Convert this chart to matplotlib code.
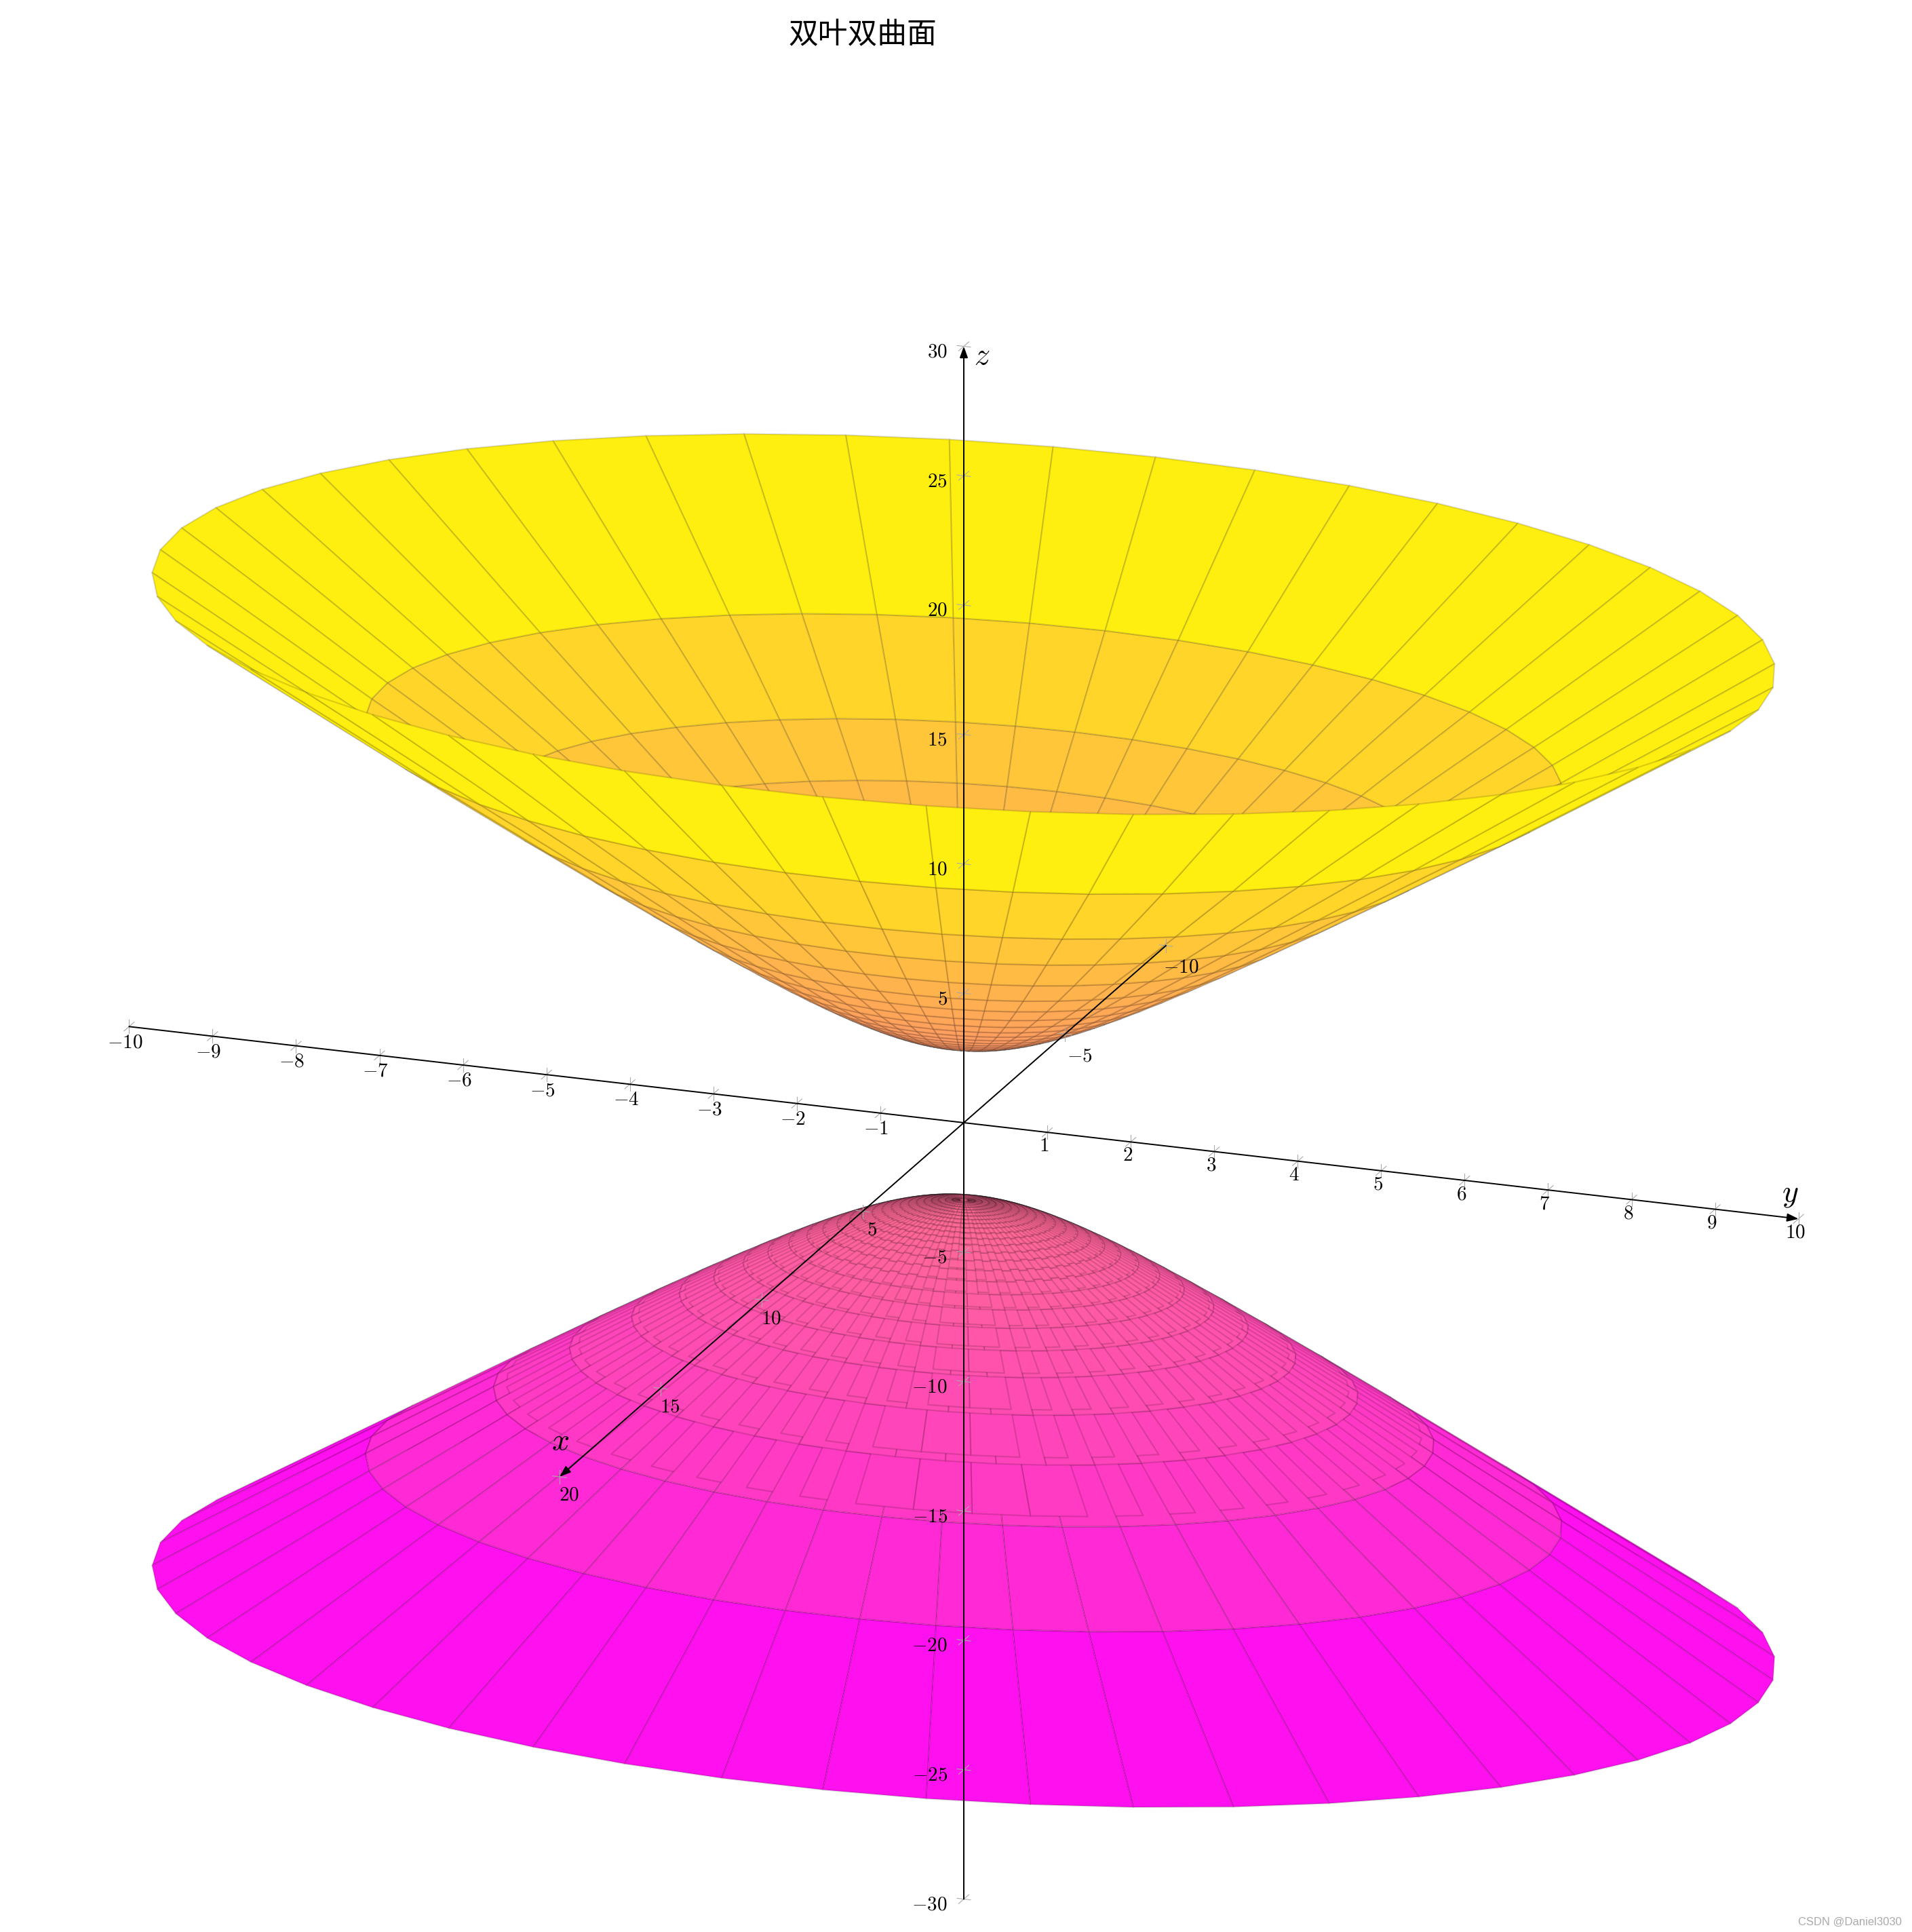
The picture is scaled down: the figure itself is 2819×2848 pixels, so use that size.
import matplotlib
matplotlib.use('Agg')
import matplotlib.pyplot as plt
from matplotlib.collections import PolyCollection
import numpy as np

plt.rcParams['mathtext.fontset'] = 'cm'

WIDTH = 2819
HEIGHT = 2848

title = '双叶双曲面'
watermark = 'CSDN @Daniel3030'

x_ticks = [-10, -5, 5, 10, 15, 20]
y_ticks = [-10, -9, -8, -7, -6, -5, -4, -3, -2, -1, 1, 2, 3, 4, 5, 6, 7, 8, 9, 10]
z_ticks = [-30, -25, -20, -15, -10, -5, 5, 10, 15, 20, 25, 30]

# rings of the surface, rim to vertex
ring_u = [1.4134, 1.3587, 1.3034, 1.2550, 1.2008, 1.1455, 1.095, 1.042, 0.989, 0.936, 0.883,
          0.830, 0.777, 0.724, 0.671, 0.618, 0.565, 0.512, 0.459, 0.406, 0.353,
          0.300, 0.247, 0.194, 0.141, 0.088, 0.035, 0.0]
rim_z_top = 19.26
rim_z_bottom = 19.10
a = 1.5
c = 3.0
n_cols = 49
v_start = np.radians(-77.2)

# screen directions of the three axes, pixels per unit
origin = np.array([1421.0, 1655.0])
ex = np.array([-29.8, 26.1])
ey = np.array([123.07, 14.17])
ez = np.array([0.0, -38.15])
view = np.array([123.07 / 29.8, 1.0, (26.1 * 123.07 / 29.8 + 14.17) / 38.15])


def proj(x, y, z):
    return origin + np.multiply.outer(x, ex) + np.multiply.outer(y, ey) + np.multiply.outer(z, ez)


def make_cell(u0, u1, v0, v1, rim_z, sign, edge=(0, 0, 0, 0.14)):
    us = np.array([u0, u0, u1, u1])
    vs = np.array([v0, v1, v1, v0])
    x = a * np.tan(us) * np.cos(vs)
    y = a * np.tan(us) * np.sin(vs)
    z = c / np.cos(us)
    if rim_z is not None:
        z[:2] = rim_z
    z = sign * z
    depth = view[0] * x.mean() + view[1] * y.mean() + view[2] * z.mean()
    return depth, proj(x, y, z), z.mean(), edge


def surface_cells(rim_z, sign, shift):
    dv = 2 * np.pi / n_cols
    last = len(ring_u) - 2
    cells = []
    for i in range(len(ring_u) - 1):
        for k in range(n_cols):
            v0 = v_start + k * dv
            # no lines on the tiny cells round the vertex
            edge = (0, 0, 0, 0) if i == last else (0, 0, 0, 0.14)
            cells.append(make_cell(ring_u[i], ring_u[i + 1], v0, v0 + dv, rim_z if i == 0 else None, sign, edge))
            # second layer, half a cell round and a little inside the first
            if shift is not None and 2 <= i < last - 3:
                u0 = ring_u[i] + shift
                u1 = ring_u[i + 1] + shift
                cells.append(make_cell(u0, u1, v0 + dv / 2, v0 + 1.5 * dv, None, sign))
    return cells


def draw_surface(ax, rim_z, sign, shift):
    cells = surface_cells(rim_z, sign, shift)
    cells.sort(key=lambda item: item[0])
    cmap = plt.get_cmap('spring')
    polys = [item[1] for item in cells]
    colors = [cmap((item[2] + 19.2) / 38.4) for item in cells]
    edges = [item[3] for item in cells]
    coll = PolyCollection(polys, facecolors=colors, edgecolors=edges, linewidths=1.6, zorder=2)
    ax.add_collection(coll)


def draw_tick(ax, p, d1, d2):
    for d in (d1, d2):
        unit = d / np.hypot(d[0], d[1])
        ax.plot([p[0] - 10 * unit[0], p[0] + 10 * unit[0]], [p[1] - 10 * unit[1], p[1] + 10 * unit[1]],
                color='#aaaaaa', lw=0.8, zorder=3)


def draw_axes(ax):
    ends = [((-10, 0, 0), (20, 0, 0)), ((0, -10, 0), (0, 10, 0)), ((0, 0, -30), (0, 0, 30))]
    for start, end in ends:
        p0 = proj(*start)
        p1 = proj(*end)
        ax.annotate('', xy=p1, xytext=p0,
                    arrowprops=dict(arrowstyle='-|>,head_length=1.0,head_width=0.36', color='black', lw=1.4,
                                    shrinkA=0, shrinkB=0, mutation_scale=10), zorder=5)
    for t in x_ticks:
        p = proj(t, 0, 0)
        draw_tick(ax, p, ey, ez)
        dx, dy = (14, 27) if t > 0 else (22, 32)
        ax.text(p[0] + dx, p[1] + dy, '$%d$' % t, fontsize=21, ha='center', va='center', zorder=6)
    for t in y_ticks:
        p = proj(0, t, 0)
        draw_tick(ax, p, ex, ez)
        dx, dy = (-5, 20) if t > 0 else (-6, 23)
        ax.text(p[0] + dx, p[1] + dy, '$%d$' % t, fontsize=21, ha='center', va='center', zorder=6)
    for t in z_ticks:
        p = proj(0, 0, t)
        draw_tick(ax, p, ex, ey)
        ax.text(p[0] - 24, p[1] + 8, '$%d$' % t, fontsize=21, ha='right', va='center', zorder=6)
    ax.text(1448, 525, '$z$', fontsize=33, ha='center', va='center', zorder=6)
    ax.text(2639, 1760, '$y$', fontsize=33, ha='center', va='center', zorder=6)
    ax.text(826, 2125, '$x$', fontsize=33, ha='center', va='center', zorder=6)


def main():
    fig = plt.figure(figsize=(WIDTH / 100, HEIGHT / 100), dpi=100)
    ax = fig.add_axes([0, 0, 1, 1])
    ax.set_xlim(0, WIDTH)
    ax.set_ylim(HEIGHT, 0)
    ax.axis('off')
    draw_surface(ax, rim_z_top, 1, None)
    draw_surface(ax, rim_z_bottom, -1, -0.007)
    draw_axes(ax)
    ax.text(1272, 51, title, fontsize=31.5, ha='center', va='center', family=['Noto Sans CJK SC', 'DejaVu Sans'])
    ax.text(2804, 2833, watermark, fontsize=12, color='#aaaaaa', ha='right', va='center', family='Liberation Sans')
    fig.savefig('out.png', dpi=100)


if __name__ == '__main__':
    main()
